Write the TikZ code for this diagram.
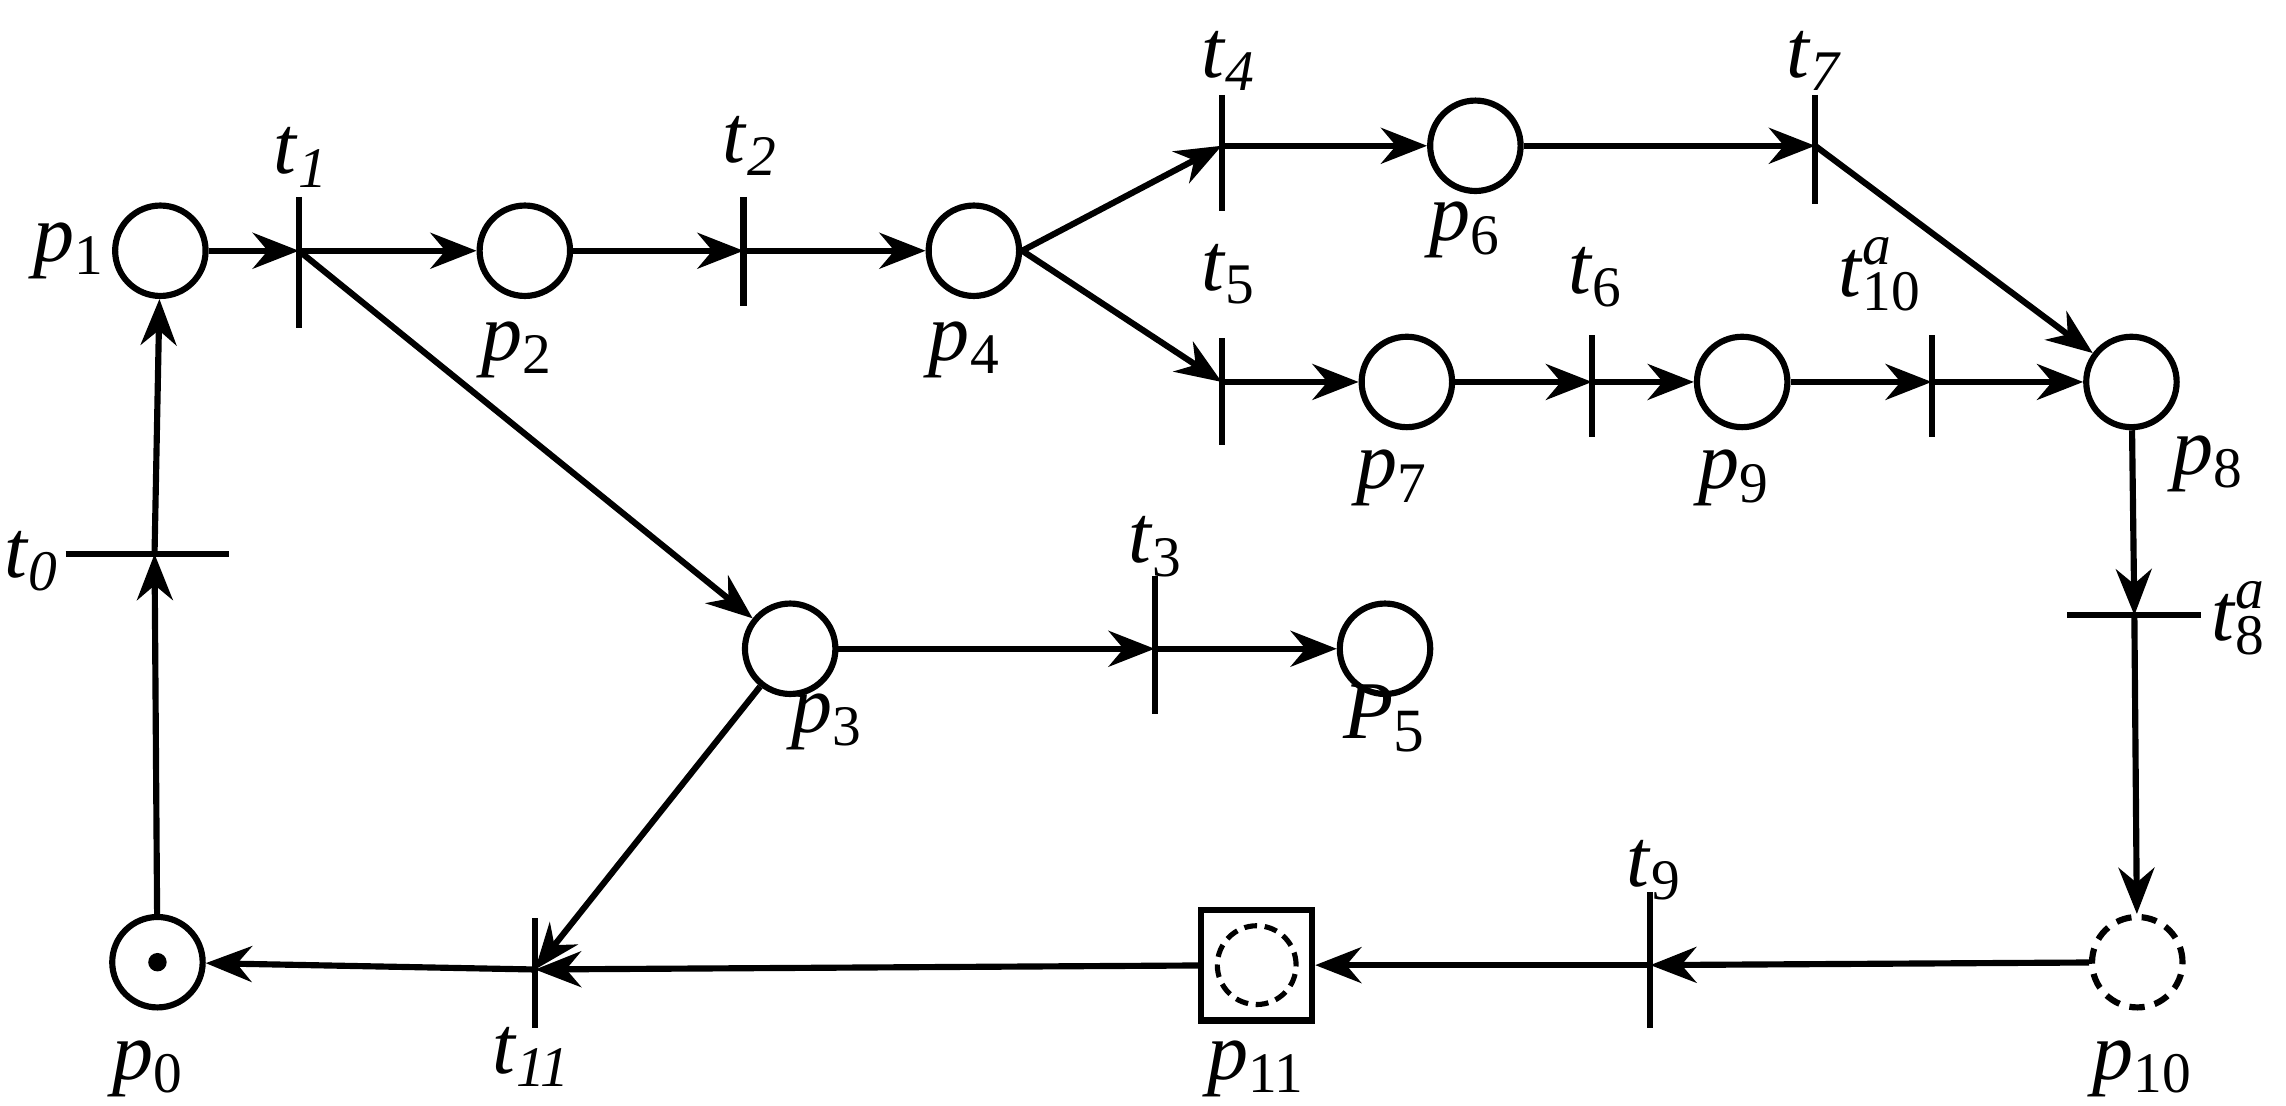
\documentclass[tikz,border=0pt]{standalone}
\usepackage{fontspec}
\setmainfont{Liberation Serif}
\usetikzlibrary{arrows.meta}
\newcommand{\pv}[2]{\textit{#1}\textsubscript{#2}}
\newcommand{\pva}[2]{\textit{#1}\rlap{\textsuperscript{\textit{a}}}\textsubscript{#2}}
\begin{document}
\begin{tikzpicture}[x=0.01cm,y=-0.01cm,
  pl/.style={circle,draw,line width=1.2pt,minimum size=0.62cm,inner sep=0pt},
  bar/.style={line width=1.2pt},
  arc/.style={line width=1.2pt,-{Stealth[length=9pt,width=7pt]}},
  lb/.style={font=\fontsize{16}{18}\selectfont,inner sep=0pt}]
\useasboundingbox (0,0) rectangle (1568,758);
\node[pl] (p1) at (110,172) {};
\node[pl] (p2) at (360,172) {};
\node[pl] (p4) at (668,172) {};
\node[pl] (p6) at (1012,100) {};
\node[pl] (p7) at (965,262) {};
\node[pl] (p9) at (1195,262) {};
\node[pl] (p8) at (1462,262) {};
\node[pl] (p3) at (542,445) {};
\node[pl] (p5) at (950,445) {};
\node[pl] (p0) at (108,660) {};
\fill (p0) circle (1.8pt);
\node[pl,draw=none] (p10) at (1466,660) {};
\draw[line width=1.2pt,dash pattern=on 3pt off 2pt] (p10) circle (0.31cm);
\node[draw,line width=1.2pt,minimum size=0.76cm,inner sep=0pt] (p11) at (862,662) {};
\draw[line width=1pt,dash pattern=on 2.5pt off 1.5pt] (p11) circle (0.27cm);
\coordinate (t1) at (205,172);
\coordinate (t2) at (510,172);
\coordinate (t4) at (838,100);
\coordinate (t7) at (1245,100);
\coordinate (t5) at (838,262);
\coordinate (t6) at (1092,262);
\coordinate (t10) at (1325,262);
\coordinate (t8) at (1464,422);
\coordinate (t9) at (1132,662);
\coordinate (t11) at (367,665);
\coordinate (t0) at (106,380);
\coordinate (t3) at (792,445);
\draw[bar] (205,135) -- (205,225);
\draw[bar] (510,135) -- (510,210);
\draw[bar] (838,65) -- (838,145);
\draw[bar] (1245,65) -- (1245,140);
\draw[bar] (838,232) -- (838,305);
\draw[bar] (1092,230) -- (1092,300);
\draw[bar] (1325,230) -- (1325,300);
\draw[bar] (1418,422) -- (1510,422);
\draw[bar] (1132,612) -- (1132,705);
\draw[bar] (367,630) -- (367,705);
\draw[bar] (45,380) -- (157,380);
\draw[bar] (792,395) -- (792,490);
\draw[arc] (p1) -- (t1);
\draw[arc] (t1) -- (p2);
\draw[arc] (p2) -- (t2);
\draw[arc] (t2) -- (p4);
\draw[arc] (p4.east) -- (t4);
\draw[arc] (t4) -- (p6);
\draw[arc] (p6) -- (t7);
\draw[arc] (t7) -- (p8);
\draw[arc] (p4.east) -- (t5);
\draw[arc] (t5) -- (p7);
\draw[arc] (p7) -- (t6);
\draw[arc] (t6) -- (p9);
\draw[arc] (p9) -- (t10);
\draw[arc] (t10) -- (p8);
\draw[arc] (p8) -- (t8);
\draw[arc] (t8) -- (p10);
\draw[arc] (p10) -- (t9);
\draw[arc] (t9) -- (p11);
\draw[arc] (p11) -- (t11);
\draw[arc] (t11) -- (p0);
\draw[arc] (p0) -- (t0);
\draw[arc] (t0) -- (p1);
\draw[arc] (t1) -- (p3);
\draw[arc] (p3) -- (t3);
\draw[arc] (t3) -- (p5);
\draw[arc] (p3) -- (t11);
\node[lb] at (48,172) {\pv{p}{1}};
\node[lb] at (207,108) {\pv{t}{\textit{1}}};
\node[lb] at (355,240) {\pv{p}{2}};
\node[lb] at (515,100) {\pv{t}{\textit{2}}};
\node[lb] at (662,240) {\pv{p}{4}};
\node[lb] at (843,42) {\pv{t}{\textit{4}}};
\node[lb] at (1005,158) {\pv{p}{6}};
\node[lb] at (1245,42) {\pv{t}{\textit{7}}};
\node[lb] at (843,188) {\pv{t}{5}};
\node[lb] at (1095,190) {\pv{t}{6}};
\node[lb] at (955,328) {\pv{p}{7}};
\node[lb] at (1190,328) {\pv{p}{9}};
\node[lb] at (1290,188) {\pva{t}{10}};
\node[lb] at (1515,318) {\pv{p}{8}};
\node[lb] at (1536,424) {\pva{t}{8}};
\node[lb] at (1470,733) {\pv{p}{10}};
\node[lb] at (1135,597) {\pv{t}{9}};
\node[lb] at (862,733) {\pv{p}{11}};
\node[lb] at (365,725) {\pv{t}{\textit{11}}};
\node[lb] at (102,733) {\pv{p}{0}};
\node[lb] at (22,385) {\pv{t}{\textit{0}}};
\node[lb] at (793,375) {\pv{t}{3}};
\node[lb] at (950,493) {\pv{\textit{P}}{\large 5}};
\node[lb] at (568,495) {\pv{p}{3}};
\end{tikzpicture}
\end{document}
